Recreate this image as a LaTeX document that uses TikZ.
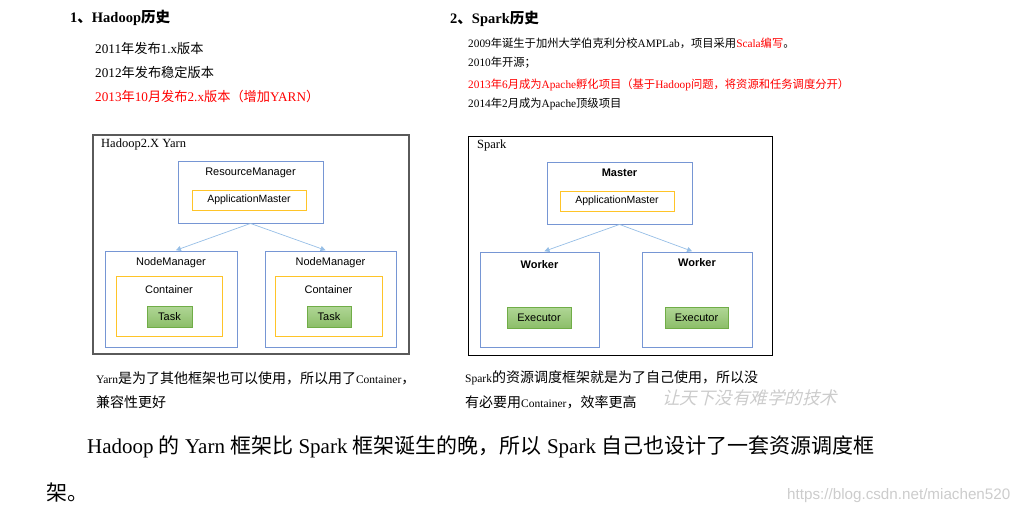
\documentclass[tikz,border=0pt]{standalone}
\usepackage{fontspec}
\setmainfont{Liberation Serif}
\setsansfont{Liberation Sans}
\newfontfamily\cjk{Noto Sans CJK SC}
\newfontfamily\cjkslant[FakeSlant=0.25]{Noto Sans CJK SC}
\newcommand{\zh}[1]{{\cjk #1}}
\newcommand{\fsz}[1]{\fontsize{#1}{#1}\selectfont}
\usetikzlibrary{positioning, arrows.meta}

\definecolor{boxblue}{RGB}{118,150,212}
\definecolor{amyellow}{RGB}{255,196,40}
\definecolor{taskgreen}{RGB}{112,173,71}
\definecolor{taskfilltop}{RGB}{176,214,150}
\definecolor{taskfillbot}{RGB}{140,190,105}
\definecolor{arrowblue}{RGB}{150,190,230}
\definecolor{framegray}{RGB}{90,90,90}

\begin{document}
\begin{tikzpicture}[
  x=1pt, y=-1pt,
  frame/.style={draw, line width=0.9pt, inner sep=0pt},
  bluebox/.style={draw=boxblue, line width=0.9pt, inner sep=0pt},
  ambox/.style={draw=amyellow, line width=0.9pt, inner sep=0pt,
    minimum width=114, minimum height=20, font=\fsz{10.5}\sffamily},
  greenbox/.style={draw=taskgreen, line width=0.8pt, inner sep=0pt,
    top color=taskfilltop, bottom color=taskfillbot,
    minimum height=21, font=\fsz{11}\sffamily},
  lbl/.style={font=\fsz{11}\sffamily, inner sep=0pt},
  boldlbl/.style={font=\fsz{11}\sffamily\bfseries, inner sep=0pt},
  arr/.style={-{Triangle[length=5pt, width=5pt]}, draw=arrowblue,
    line width=0.7pt, shorten >=1pt},
  head/.style={anchor=west, inner sep=0pt, font=\fsz{14.5}\bfseries},
  histline/.style={anchor=west, inner sep=0pt, font=\fsz{13.2}},
  sparkline/.style={anchor=west, inner sep=0pt, font=\fsz{11.3}},
  note/.style={anchor=west, inner sep=0pt, font=\fsz{11.5}},
  bigline/.style={anchor=west, inner sep=0pt, font=\fsz{21}},
]
\useasboundingbox (0,0) rectangle (1030,515);

% --- Hadoop history ---
\node[head] (hhead) at (70,18) {1\zh{、}Hadoop\zh{历史}};
\node[histline] (h2011) at (95,48) {2011\zh{年发布}1.x\zh{版本}};
\node[histline] (h2012) at (95,72) {2012\zh{年发布稳定版本}};
\node[histline, text=red] (h2013) at (95,96)
  {2013\zh{年}10\zh{月发布}2.x\zh{版本（增加}YARN\zh{）}};

% --- Spark history ---
\node[head] (shead) at (450,19) {2\zh{、}Spark\zh{历史}};
\node[sparkline] (s2009) at (468,43)
  {2009\zh{年诞生于加州大学伯克利分校}AMPLab\zh{，项目采用}\textcolor{red}{Scala\zh{编写}}\zh{。}};
\node[sparkline] (s2010) at (468,63) {2010\zh{年开源；}};
\node[sparkline, text=red] (s2013) at (468,85)
  {2013\zh{年}6\zh{月成为}Apache\zh{孵化项目（基于}Hadoop\zh{问题，将资源和任务调度分开）}};
\node[sparkline] (s2014) at (468,104) {2014\zh{年}2\zh{月成为}Apache\zh{顶级项目}};

% --- Hadoop2.X Yarn frame ---
\node[frame, draw=framegray, line width=1.3pt, minimum width=316, minimum height=219]
  (yarn) at (251,244.5) {};
\node[anchor=west, inner sep=0pt, font=\fsz{12.5}] (yarnlbl) at (101,144) {Hadoop2.X Yarn};

\node[bluebox, minimum width=145, minimum height=62] (rm) at (250.5,192) {};
\node[lbl] (rmlbl) at (250.5,173) {ResourceManager};
\node[ambox] (am1) at (249,200) {ApplicationMaster};

\node[bluebox, minimum width=132, minimum height=96] (nm1) at (171,299) {};
\node[lbl] (nm1lbl) at (171,263) {NodeManager};
\node[draw=amyellow, line width=0.9pt, minimum width=106, minimum height=60] (ct1) at (169,306) {};
\node[lbl] (ct1lbl) at (169,290) {Container};
\node[greenbox, minimum width=45] (task1) at (169.5,316.5) {Task};

\node[bluebox, minimum width=131, minimum height=96] (nm2) at (330.5,299) {};
\node[lbl] (nm2lbl) at (330.5,263) {NodeManager};
\node[draw=amyellow, line width=0.9pt, minimum width=107, minimum height=60] (ct2) at (328.5,306) {};
\node[lbl] (ct2lbl) at (328.5,290) {Container};
\node[greenbox, minimum width=44] (task2) at (329,316.5) {Task};

\draw[arr] (rm.south) -- ([xshift=4pt]nm1.north);
\draw[arr] (rm.south) -- ([xshift=-4pt]nm2.north);

% --- Spark frame ---
\node[frame, minimum width=304, minimum height=219] (spark) at (620,245.5) {};
\node[anchor=west, inner sep=0pt, font=\fsz{12.5}] (sparklbl) at (477,145) {Spark};

\node[bluebox, minimum width=145, minimum height=62] (master) at (619.5,193) {};
\node[boldlbl] (masterlbl) at (619.5,173) {Master};
\node[ambox] (am2) at (617,201) {ApplicationMaster};

\node[bluebox, minimum width=119, minimum height=95] (wk1) at (539.5,299.5) {};
\node[boldlbl] (wk1lbl) at (539.5,265) {Worker};
\node[greenbox, minimum width=64] (ex1) at (539,317.5) {Executor};

\node[bluebox, minimum width=110, minimum height=95] (wk2) at (697,299.5) {};
\node[boldlbl] (wk2lbl) at (697,263) {Worker};
\node[greenbox, minimum width=63] (ex2) at (696.5,317.5) {Executor};

\draw[arr] (master.south) -- ([xshift=4pt]wk1.north);
\draw[arr] (master.south) -- ([xshift=-4pt]wk2.north);

% --- notes under the frames ---
\node[note] (ynote1) at (96,378)
  {Yarn\zh{\fsz{14}是为了其他框架也可以使用，所以用了}Container\zh{\fsz{14}，}};
\node[note] (ynote2) at (96,402) {\zh{\fsz{14}兼容性更好}};
\node[note] (snote1) at (465,378)
  {Spark\zh{\fsz{14}的资源调度框架就是为了自己使用，所以没}};
\node[note] (snote2) at (465,402)
  {\zh{\fsz{14}有必要用}Container\zh{\fsz{14}，效率更高}};
\node[anchor=west, inner sep=0pt, text=black!20, font=\fsz{17.5}\cjkslant]
  (mark) at (662,398) {让天下没有难学的技术};

% --- closing sentence ---
\node[bigline] (big1) at (87,447)
  {Hadoop \zh{的} Yarn \zh{框架比} Spark \zh{框架诞生的晚，所以} Spark \zh{自己也设计了一套资源调度框}};
\node[bigline] (big2) at (46,493) {\zh{架。}};
\node[anchor=west, inner sep=0pt, text=black!20, font=\fsz{15.2}\sffamily]
  (url) at (787,496) {https://blog.csdn.net/miachen520};

\end{tikzpicture}
\end{document}
